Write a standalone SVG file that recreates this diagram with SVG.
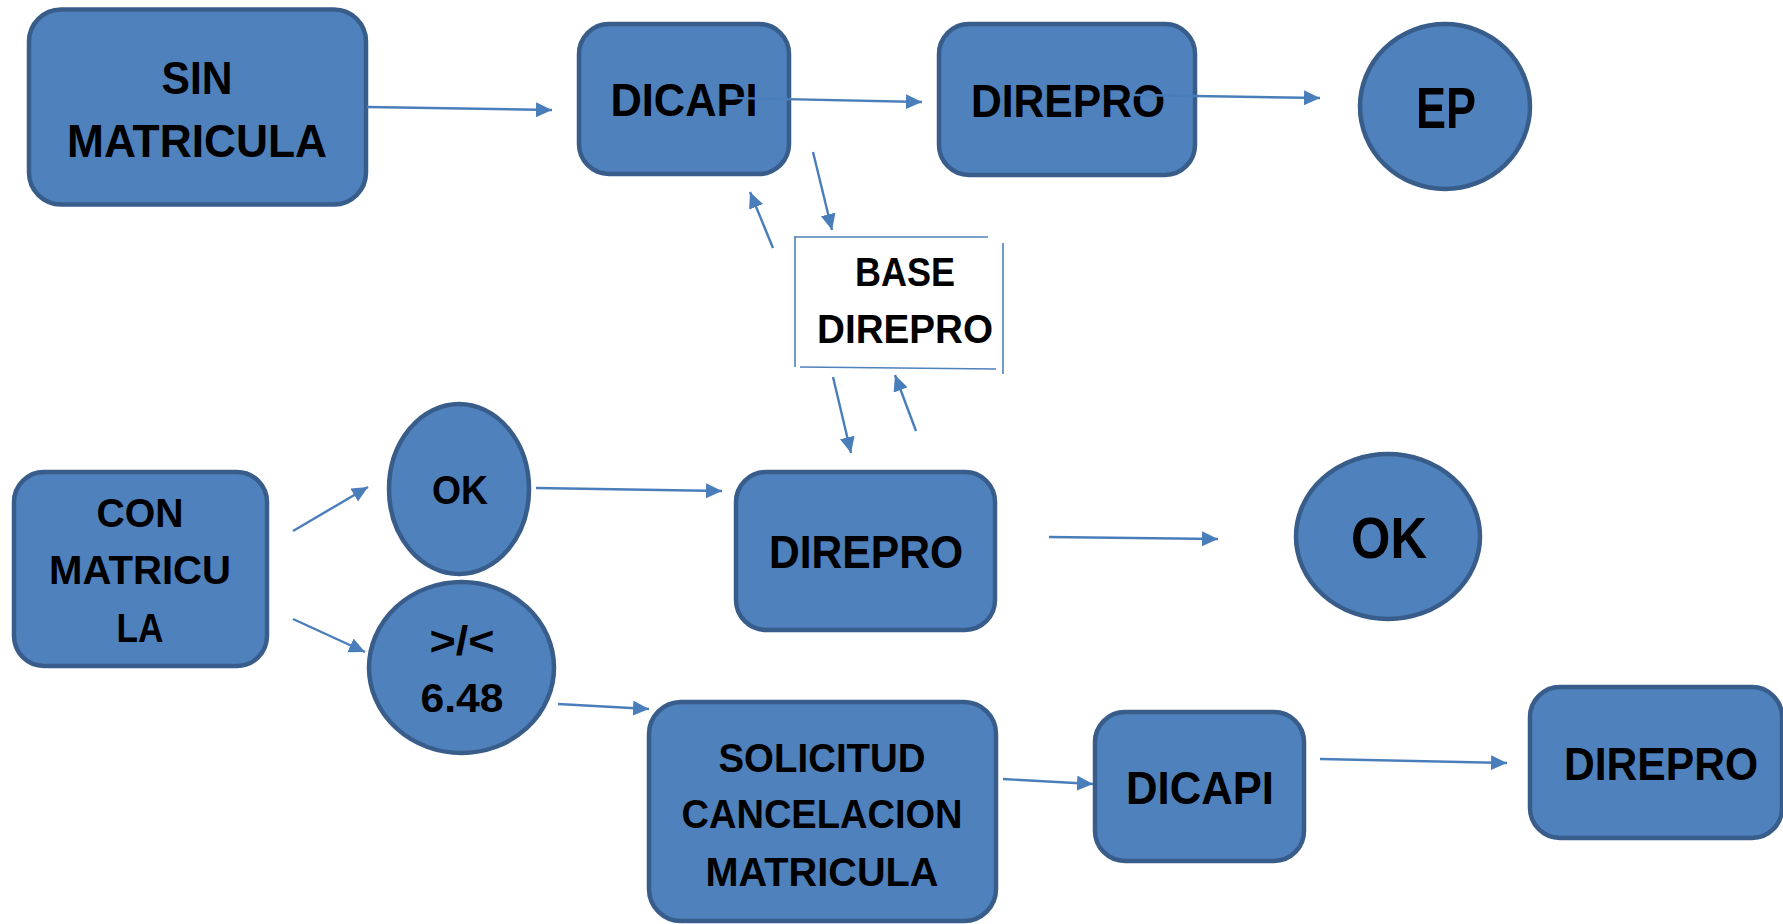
<svg xmlns="http://www.w3.org/2000/svg" width="1783" height="924" viewBox="0 0 1783 924">
<style>
.n{fill:#4F81BD;stroke:#385D8A;stroke-width:4.5}
text{font-family:"Liberation Sans",Arial,sans-serif;font-weight:bold;fill:#000;text-anchor:middle}
.l{font-size:47px}.m{font-size:41px}.b{font-size:57px}
.c{stroke:#4A7EBB;stroke-width:2.4;fill:none;marker-end:url(#ah)}
.f{stroke:#4F81BD;stroke-width:1.6;fill:none}
</style>
<defs>
<marker id="ah" markerUnits="userSpaceOnUse" markerWidth="18" markerHeight="16" refX="16" refY="7.5" orient="auto"><path d="M0,0 L16,7.5 L0,15 z" fill="#4A7EBB"/></marker>
</defs>
<rect width="1783" height="924" fill="#fff"/>
<g id="sin-matricula"><rect class="n" x="29" y="9.5" width="337" height="195" rx="32"/>
<text class="l" x="197" y="94" textLength="71" lengthAdjust="spacingAndGlyphs">SIN</text>
<text class="l" x="197" y="157" textLength="260" lengthAdjust="spacingAndGlyphs">MATRICULA</text></g>
<g id="dicapi-top"><rect class="n" x="579" y="24" width="210" height="150" rx="30"/>
<text class="l" x="684" y="116" textLength="147" lengthAdjust="spacingAndGlyphs">DICAPI</text></g>
<g id="direpro-top"><rect class="n" x="939" y="24" width="256" height="151" rx="30"/>
<text class="l" x="1068" y="117" textLength="194" lengthAdjust="spacingAndGlyphs">DIREPRO</text></g>
<g id="ep"><ellipse class="n" cx="1445" cy="106.5" rx="85" ry="82.5"/>
<text class="b" x="1446" y="128" textLength="60" lengthAdjust="spacingAndGlyphs">EP</text></g>
<g id="base-direpro">
<path class="f" d="M794,237 L988,237 M795,237 L795,367 M800,367 L996,369 M1003,243 L1003,374"/>
<text class="m" x="905" y="286" textLength="100" lengthAdjust="spacingAndGlyphs">BASE</text>
<text class="m" x="905" y="343" textLength="176" lengthAdjust="spacingAndGlyphs">DIREPRO</text></g>
<g id="con-matricula"><rect class="n" x="14" y="472" width="253" height="194" rx="30"/>
<text class="m" x="140" y="527" textLength="87" lengthAdjust="spacingAndGlyphs">CON</text>
<text class="m" x="140" y="584" textLength="182" lengthAdjust="spacingAndGlyphs">MATRICU</text>
<text class="m" x="140" y="642" textLength="47" lengthAdjust="spacingAndGlyphs">LA</text></g>
<g id="ok-small"><ellipse class="n" cx="459" cy="489" rx="70" ry="85"/>
<text class="m" x="460" y="504" textLength="56" lengthAdjust="spacingAndGlyphs">OK</text></g>
<g id="gt-lt-648"><ellipse class="n" cx="461.5" cy="667.5" rx="92.5" ry="85.5"/>
<text class="m" x="462" y="655" textLength="65" lengthAdjust="spacingAndGlyphs">&gt;/&lt;</text>
<text class="m" x="462" y="712" textLength="83" lengthAdjust="spacingAndGlyphs">6.48</text></g>
<g id="direpro-mid"><rect class="n" x="736" y="472" width="259" height="158" rx="30"/>
<text class="l" x="866" y="568" textLength="194" lengthAdjust="spacingAndGlyphs">DIREPRO</text></g>
<g id="ok-big"><ellipse class="n" cx="1388" cy="536.5" rx="92" ry="82.5"/>
<text class="b" x="1389" y="558" textLength="76" lengthAdjust="spacingAndGlyphs">OK</text></g>
<g id="solicitud"><rect class="n" x="649" y="702" width="347" height="219" rx="32"/>
<text class="m" x="822" y="772" textLength="207" lengthAdjust="spacingAndGlyphs">SOLICITUD</text>
<text class="m" x="822" y="828" textLength="281" lengthAdjust="spacingAndGlyphs">CANCELACION</text>
<text class="m" x="822" y="886" textLength="233" lengthAdjust="spacingAndGlyphs">MATRICULA</text></g>
<g id="dicapi-bottom"><rect class="n" x="1095" y="712" width="209" height="149" rx="30"/>
<text class="l" x="1200" y="804" textLength="148" lengthAdjust="spacingAndGlyphs">DICAPI</text></g>
<g id="direpro-bottom"><rect class="n" x="1530" y="687" width="252" height="151" rx="30"/>
<text class="l" x="1661" y="780" textLength="194" lengthAdjust="spacingAndGlyphs">DIREPRO</text></g>
<g id="connectors">
<line class="c" x1="367" y1="107" x2="552" y2="110"/>
<line class="c" x1="734" y1="98" x2="922" y2="102"/>
<line class="c" x1="1134" y1="95" x2="1320" y2="98"/>
<line class="c" x1="813" y1="152" x2="832" y2="230"/>
<line class="c" x1="773" y1="248" x2="750" y2="192"/>
<line class="c" x1="833" y1="377" x2="851" y2="453"/>
<line class="c" x1="916" y1="431" x2="895" y2="375"/>
<line class="c" x1="293" y1="531" x2="368" y2="487"/>
<line class="c" x1="293" y1="619" x2="365" y2="652"/>
<line class="c" x1="536" y1="488" x2="722" y2="491"/>
<line class="c" x1="1049" y1="537" x2="1218" y2="539"/>
<line class="c" x1="558" y1="704" x2="649" y2="709"/>
<line class="c" x1="1003" y1="779" x2="1093" y2="784"/>
<line class="c" x1="1320" y1="759" x2="1507" y2="763"/>
</g>
</svg>
